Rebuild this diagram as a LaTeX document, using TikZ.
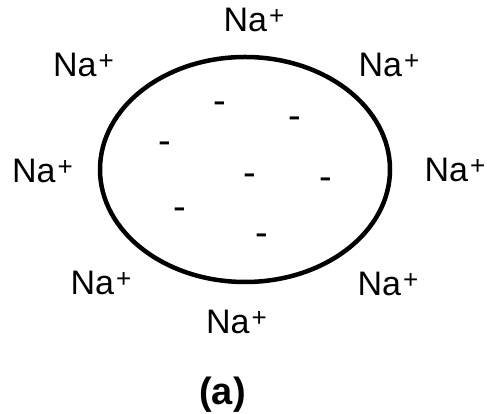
\documentclass[tikz,border=0pt]{standalone}
\usepackage{fontspec}
\setmainfont{Liberation Sans}
\usetikzlibrary{positioning}

\newcommand{\sodium}{Na\kern2pt\raisebox{7.5pt}{\fontsize{26}{26}\selectfont+}}

\begin{document}
\begin{tikzpicture}[
  x=1pt, y=1pt,
  ion/.style={anchor=base, inner sep=0pt, font=\fontsize{34}{38}\selectfont},
  charge/.style={anchor=base, inner sep=0pt, yshift=-10.4pt,
                 font=\fontsize{38}{40}\selectfont},
  cell/.style={draw, line width=4.5pt},
]
  \useasboundingbox (0,0) rectangle (487,414);

  % the cell
  \draw[cell] (245,244.5) ellipse [x radius=145, y radius=112.5];

  % charges inside
  \node[charge] (m1) at (220,311) {-};
  \node[charge] (m2) at (295,296) {-};
  \node[charge] (m3) at (165,271) {-};
  \node[charge] (m4) at (250,239) {-};
  \node[charge] (m5) at (326,235) {-};
  \node[charge] (m6) at (180,205) {-};
  \node[charge] (m7) at (262,179) {-};

  % ions outside
  \node[ion] (natop)    at (254,382)   {\sodium};
  \node[ion] (natl)     at (83.5,337)  {\sodium};
  \node[ion] (natr)     at (389,337)   {\sodium};
  \node[ion] (naleft)   at (42.5,231)  {\sodium};
  \node[ion] (naright)  at (455,232)   {\sodium};
  \node[ion] (nabl)     at (101,119)   {\sodium};
  \node[ion] (nabr)     at (388,118)   {\sodium};
  \node[ion] (nabottom) at (236.5,80)  {\sodium};

  \node[ion, font=\fontsize{38}{40}\selectfont\bfseries] (caption) at (222.5,9) {(a)};
\end{tikzpicture}
\end{document}
